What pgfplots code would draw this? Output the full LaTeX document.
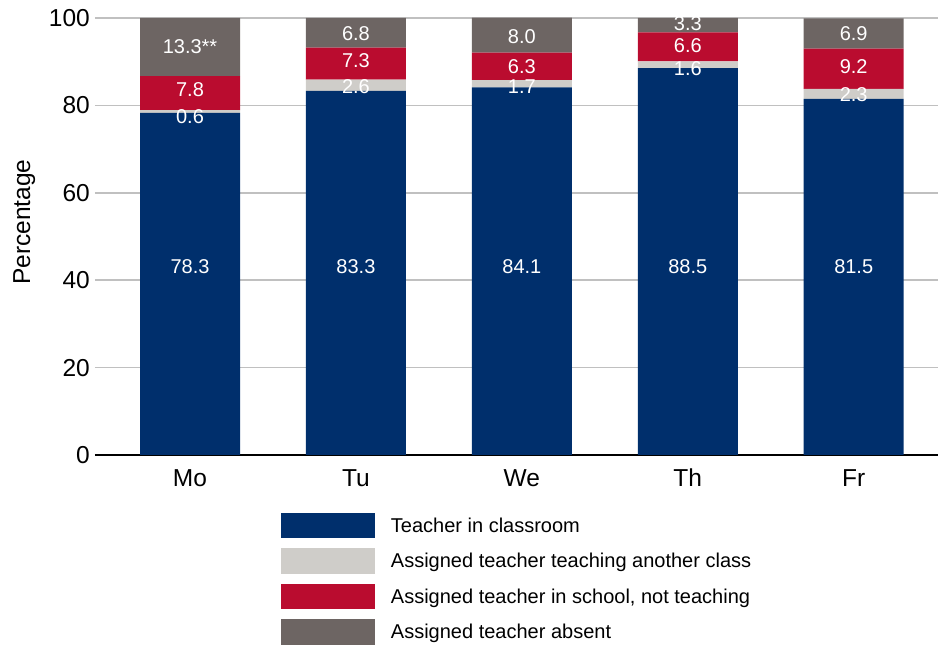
\documentclass[border=0pt]{standalone}
\usepackage{pgfplots}
\usepackage{pgfplotstable}
\pgfplotsset{compat=1.18}
\usepackage{fontspec}
\setmainfont{Liberation Sans}
\definecolor{cNavy}{HTML}{002F6C}
\definecolor{cLight}{HTML}{CFCDC9}
\definecolor{cRed}{HTML}{BA0C2F}
\definecolor{cDark}{HTML}{6D6563}
\definecolor{cGrid}{HTML}{C0C0C0}

\pgfplotstableread{
x a b c d
0 78.3 0.6 7.8 13.3
1 83.3 2.6 7.3 6.8
2 84.1 1.7 6.3 8.0
3 88.5 1.6 6.6 3.3
4 81.5 2.3 9.2 6.9
}\data

\pgfplotstableread{
x y label
0 43.1 78.3
1 43.1 83.3
2 43.1 84.1
3 43.1 88.5
4 43.1 81.5
0 77.4 0.6
1 84.4 2.6
2 84.4 1.7
3 88.5 1.6
4 82.5 2.3
0 83.5 7.8
1 90.2 7.3
2 88.9 6.3
3 93.7 6.6
4 88.9 9.2
0 93.4 13.3**
1 96.5 6.8
2 95.7 8.0
3 98.6 3.3
4 96.5 6.9
}\labels

\begin{document}
\begin{tikzpicture}
\path[use as bounding box] (0,0) rectangle (938pt,647pt);
\begin{axis}[
  at={(95pt,192pt)}, anchor=south west,
  width=843pt, height=437pt, scale only axis,
  xmin=-0.5726, xmax=4.508, ymin=0, ymax=100,
  ybar stacked, bar width=100pt,
  axis x line*=bottom, axis y line*=left,
  x axis line style={black, line width=1.2pt, -},
  y axis line style={draw=none},
  major tick length=0pt,
  xtick={0,1,2,3,4},
  xticklabels={Mo,Tu,We,Th,Fr},
  ytick={0,20,40,60,80,100},
  ymajorgrids,
  major grid style={cGrid, line width=1.5pt},
  tick label style={font=\fontsize{24.5}{29}\selectfont},
  /pgf/number format/assume math mode=true,
  yticklabel style={inner xsep=0pt, xshift=-5pt},
  xticklabel style={anchor=base, yshift=-32pt},
  ylabel={Percentage},
  ylabel style={font=\fontsize{24.5}{29}\selectfont, at={(axis description cs:-0.084,0.533)}, anchor=center},
  legend cell align=left,
  legend style={at={(axis description cs:0.2206,-0.1327)}, anchor=north west,
    draw=none, fill=none, inner sep=0pt, outer sep=0pt, row sep=10pt,
    nodes={inner sep=0pt},
    /tikz/every odd column/.append style={column sep=16pt},
    font=\fontsize{20}{24}\selectfont},
  legend image code/.code={\fill[#1] (0pt,-12.75pt) rectangle (94pt,12.75pt);},
]
\addplot[fill=cNavy, draw=none] table[x=x, y=a] {\data};
\addlegendentry{Teacher in classroom}
\addplot[fill=cLight, draw=none] table[x=x, y=b] {\data};
\addlegendentry{Assigned teacher teaching another class}
\addplot[fill=cRed, draw=none] table[x=x, y=c] {\data};
\addlegendentry{Assigned teacher in school, not teaching}
\addplot[fill=cDark, draw=none] table[x=x, y=d] {\data};
\addlegendentry{Assigned teacher absent}
\end{axis}
\begin{axis}[
  at={(95pt,192pt)}, anchor=south west,
  width=843pt, height=437pt, scale only axis,
  xmin=-0.5726, xmax=4.508, ymin=0, ymax=100,
  hide axis, clip=false,
]
\addplot[draw=none, mark=none, nodes near coords, point meta=explicit symbolic,
  nodes near coords align=center,
  every node near coord/.append style={text=white, font=\fontsize{20}{24}\selectfont, inner sep=0pt}]
  table[x=x, y=y, meta=label] {\labels};
\end{axis}
\end{tikzpicture}
\end{document}
